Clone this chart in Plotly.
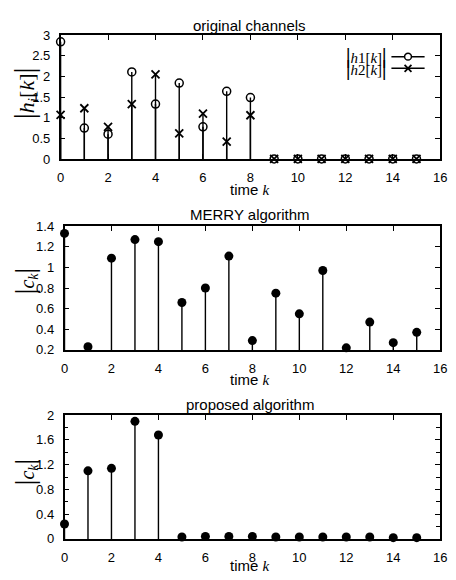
import plotly.graph_objects as go

k = list(range(16))
h1 = [2.84, 0.75, 0.60, 2.11, 1.33, 1.84, 0.78, 1.64, 1.49, 0, 0, 0, 0, 0, 0, 0]
h2 = [1.07, 1.23, 0.78, 1.33, 2.05, 0.62, 1.10, 0.42, 1.06, 0, 0, 0, 0, 0, 0, 0]
merry = [1.33, 0.23, 1.09, 1.27, 1.25, 0.66, 0.80, 1.11, 0.29, 0.75, 0.55, 0.97, 0.22, 0.47, 0.27, 0.37]
proposed = [0.24, 1.10, 1.14, 1.90, 1.68, 0.03, 0.04, 0.04, 0.04, 0.03, 0.03, 0.03, 0.03, 0.03, 0.02, 0.02]

titles = ["original channels", "MERRY algorithm", "proposed algorithm"]
xticks = list(range(0, 17, 2))

W, H = 456, 580
SANS = "Liberation Sans, Arial, sans-serif"
SERIF = "Liberation Serif, Times New Roman, serif"

def stems(xs, ys):
    sx, sy = [], []
    for a, b in zip(xs, ys):
        sx += [a, a, None]
        sy += [0, b, None]
    return sx, sy

fig = go.Figure()

# panel 1
for vals in (h1, h2):
    sx, sy = stems(k, vals)
    fig.add_trace(go.Scatter(x=sx, y=sy, mode="lines", line=dict(color="black", width=1.4),
                             xaxis="x", yaxis="y", showlegend=False, hoverinfo="skip"))
fig.add_trace(go.Scatter(x=k, y=h1, mode="markers", xaxis="x", yaxis="y", cliponaxis=False,
                         marker=dict(symbol="circle-open", size=8, color="black", line=dict(width=1.5)),
                         showlegend=False))
fig.add_trace(go.Scatter(x=k, y=h2, mode="markers", xaxis="x", yaxis="y", cliponaxis=False,
                         marker=dict(symbol="x-thin-open", size=8, color="black", line=dict(width=1.8)),
                         showlegend=False))

# panel 2
sx, sy = stems(k, merry)
fig.add_trace(go.Scatter(x=sx, y=sy, mode="lines", line=dict(color="black", width=1.4),
                         xaxis="x2", yaxis="y2", showlegend=False, hoverinfo="skip"))
fig.add_trace(go.Scatter(x=k, y=merry, mode="markers", xaxis="x2", yaxis="y2", cliponaxis=False,
                         marker=dict(symbol="circle", size=9, color="black"), showlegend=False))

# panel 3
sx, sy = stems(k, proposed)
fig.add_trace(go.Scatter(x=sx, y=sy, mode="lines", line=dict(color="black", width=1.4),
                         xaxis="x3", yaxis="y3", showlegend=False, hoverinfo="skip"))
fig.add_trace(go.Scatter(x=k, y=proposed, mode="markers", xaxis="x3", yaxis="y3", cliponaxis=False,
                         marker=dict(symbol="circle", size=9, color="black"), showlegend=False))

def py(Y):
    return 1 - Y / H

def px_(X):
    return X / W

panels = [
    dict(top=29, bot=156, left=58, right=447),
    dict(top=225, bot=352, left=62, right=447),
    dict(top=419, bot=546, left=62, right=447),
]

axis_common = dict(showline=True, linecolor="black", linewidth=1.5, mirror="ticks",
                   ticks="inside", ticklen=5, tickwidth=1, tickcolor="black",
                   showgrid=False, zeroline=False, ticklabeloverflow="allow",
                   tickfont=dict(family=SANS, size=13, color="black"))

yconf = [
    dict(range=[0, 3], tickvals=[0, 0.5, 1, 1.5, 2, 2.5, 3], ticktext=["0", "0.5", "1", "1.5", "2", "2.5", "3"]),
    dict(range=[0.2, 1.4], tickvals=[0.2, 0.4, 0.6, 0.8, 1.0, 1.2, 1.4], ticktext=["0.2", "0.4", "0.6", "0.8", "1", "1.2", "1.4"]),
    dict(range=[0, 2], tickvals=[0, 0.4, 0.8, 1.2, 1.6, 2], ticktext=["0", "0.4", "0.8", "1.2", "1.6", "2"],
         minor=dict(ticks="inside", ticklen=4, tickcolor="black", dtick=0.2, tick0=0, showgrid=False)),
]

layout = dict(width=W, height=H, margin=dict(l=0, r=0, t=0, b=0),
              paper_bgcolor="white", plot_bgcolor="white", showlegend=False)

for i, p in enumerate(panels):
    sfx = "" if i == 0 else str(i + 1)
    layout["xaxis" + sfx] = dict(axis_common, domain=[px_(p["left"]), px_(p["right"])],
                                 range=[0, 16], tickvals=xticks, anchor="y" + sfx,
                                 ticklabelstandoff=6)
    layout["yaxis" + sfx] = dict(axis_common, domain=[py(p["bot"]), py(p["top"])],
                                 anchor="x" + sfx, ticklabelstandoff=6, **yconf[i])

fig.update_layout(**layout)

ann = []
title_y = [19, 213, 408]
xlabel_y = [187, 382, 573]
ylabel_y = [88, 281, 477]
ylabels = [
    "<span style='font-size:30px'>|</span><i>h<sub>i</sub></i>[<i>k</i>]<span style='font-size:30px'>|</span>",
    "<span style='font-size:28px'>|</span><i>c<sub>k</sub></i><span style='font-size:28px'>|</span>",
    "<span style='font-size:28px'>|</span><i>c<sub>k</sub></i><span style='font-size:28px'>|</span>",
]
for i in range(3):
    ann.append(dict(text=titles[i], x=px_(252), y=py(title_y[i]), xref="paper", yref="paper",
                    showarrow=False, font=dict(family=SANS, size=15, color="black"),
                    xanchor="center", yanchor="middle"))
    ann.append(dict(text="time <span style='font-family:Liberation Serif'><i>k</i></span>",
                    x=px_(252), y=py(xlabel_y[i]), xref="paper", yref="paper",
                    showarrow=False, font=dict(family=SANS, size=15, color="black"),
                    xanchor="center", yanchor="middle"))
    ann.append(dict(text=ylabels[i], x=px_(21), y=py(ylabel_y[i]), xref="paper", yref="paper",
                    showarrow=False, textangle=-90, font=dict(family=SERIF, size=22 if i == 0 else 20, color="black"),
                    xanchor="center", yanchor="middle"))

# legend (drawn manually: text left, sample right)
leg_text = [
    "<span style='font-size:20px;font-weight:bold'>|</span><i>h</i>1[<i>k</i>]<span style='font-size:20px;font-weight:bold'>|</span>",
    "<span style='font-size:20px;font-weight:bold'>|</span><i>h</i>2[<i>k</i>]<span style='font-size:20px;font-weight:bold'>|</span>",
]
leg_y = [51, 63]
shapes = []
for j in range(2):
    ann.append(dict(text=leg_text[j], x=px_(393), y=py(leg_y[j]), xref="paper", yref="paper",
                    showarrow=False, font=dict(family=SERIF, size=15, color="black"),
                    xanchor="right", yanchor="middle"))
    shapes.append(dict(type="line", xref="paper", yref="paper", x0=px_(397), x1=px_(431),
                       y0=py(leg_y[j]), y1=py(leg_y[j]), line=dict(color="black", width=1.5)))
cx, r = 414, 3.5
shapes.append(dict(type="circle", xref="paper", yref="paper", x0=px_(cx - r), x1=px_(cx + r),
                   y0=py(leg_y[0] + r), y1=py(leg_y[0] - r), line=dict(color="black", width=1.5),
                   fillcolor="white"))
shapes.append(dict(type="line", xref="paper", yref="paper", x0=px_(cx - 3.5), x1=px_(cx + 3.5),
                   y0=py(leg_y[1] - 3.5), y1=py(leg_y[1] + 3.5), line=dict(color="black", width=1.8)))
shapes.append(dict(type="line", xref="paper", yref="paper", x0=px_(cx - 3.5), x1=px_(cx + 3.5),
                   y0=py(leg_y[1] + 3.5), y1=py(leg_y[1] - 3.5), line=dict(color="black", width=1.8)))

fig.update_layout(annotations=ann, shapes=shapes)
fig.write_html("out.html", config={"displayModeBar": False},
               post_script="document.body.style.margin='0';document.body.style.overflow='hidden';")
